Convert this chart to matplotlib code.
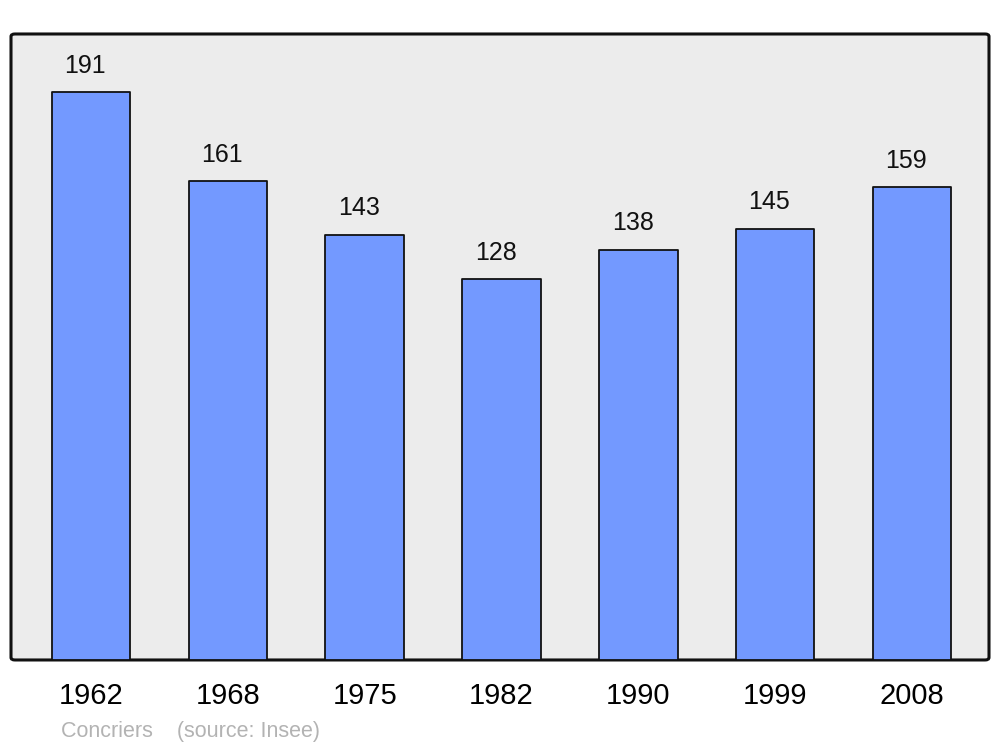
import matplotlib.pyplot as plt
from matplotlib.patches import FancyBboxPatch

years = ['1962', '1968', '1975', '1982', '1990', '1999', '2008']
population = [191, 161, 143, 128, 138, 145, 159]
town = 'Concriers'
source = '(source: Insee)'

plt.rcParams['font.family'] = ['Liberation Sans', 'DejaVu Sans']

fig = plt.figure(figsize=(10, 7.47), dpi=100)
ax = fig.add_axes([0.011, 0.1165, 0.978, 0.838])
ax.set_xlim(-0.585, 6.563)
ax.set_ylim(0, 210.5)
ax.axis('off')

# fond gris avec coins arrondis
frame = FancyBboxPatch((0, 0), 1, 1, boxstyle='round,pad=0,rounding_size=0.004',
                       transform=ax.transAxes, facecolor='#ececec',
                       edgecolor='#111111', linewidth=2.2, zorder=0, clip_on=False)
ax.add_patch(frame)

x = range(len(years))
bars = ax.bar(x, population, width=0.575, color='#7399ff', edgecolor='#111111',
              linewidth=1.3, zorder=2)
for b in bars:
    b.set_joinstyle('round')

# les étiquettes sont un peu décalées à gauche dans l'original
for xi, v in zip(x, population):
    ax.text(xi - 0.042, v + 8.9, str(v), ha='center', va='center', fontsize=18,
            color='#111111', zorder=3)

for xi, y in zip(x, years):
    ax.text(xi, -12.2, y, ha='center', va='center', fontsize=21,
            color='black', clip_on=False)

fig.text(0.061, 0.0205, town + '    ' + source, ha='left', va='center',
         fontsize=15.5, color='#b3b3b3')

fig.savefig('out.png', dpi=100, facecolor='white')
